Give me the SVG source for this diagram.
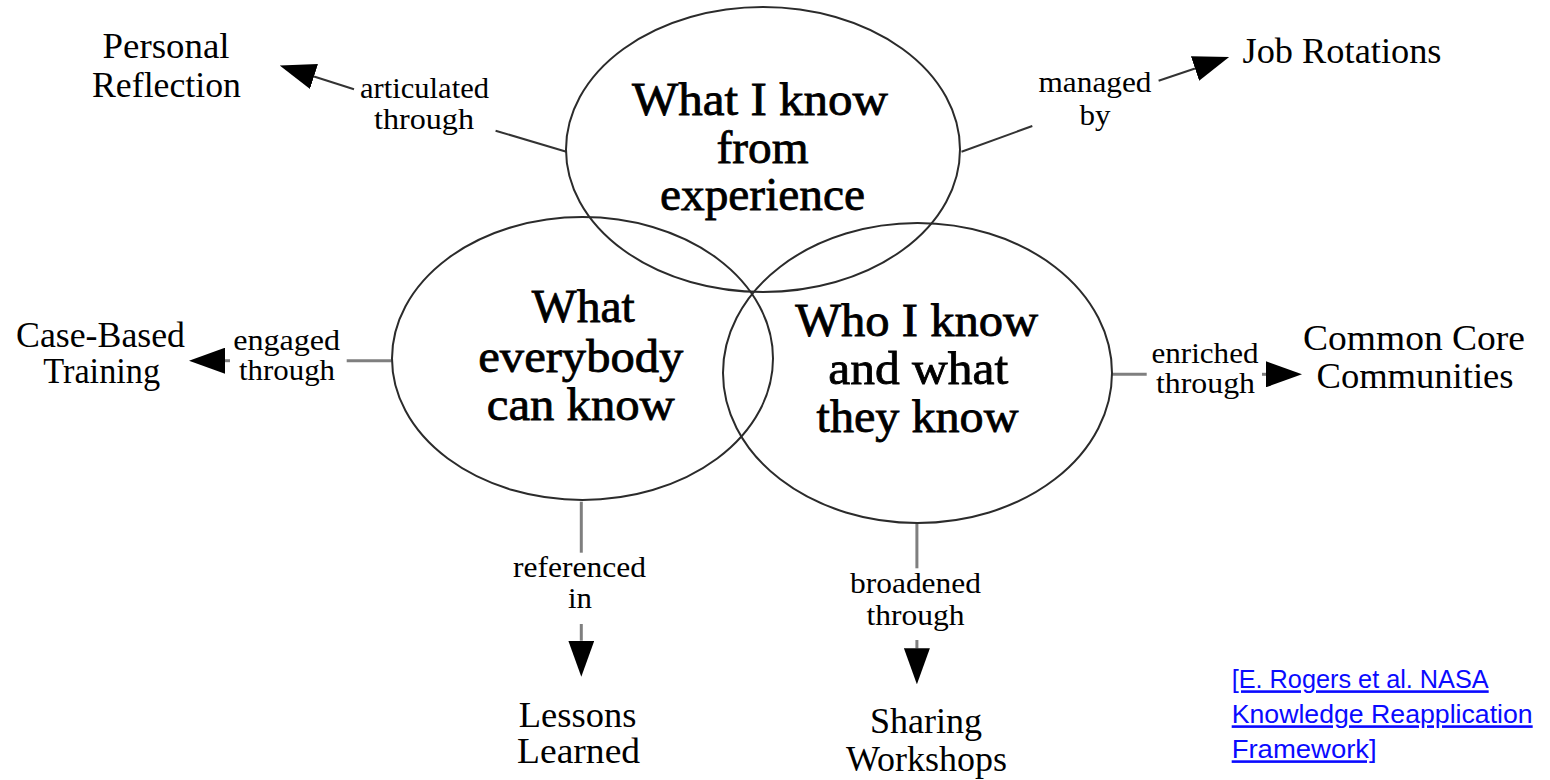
<svg xmlns="http://www.w3.org/2000/svg" width="1550" height="780" viewBox="0 0 1550 780">
<style>
.ell{fill:none;stroke:#2b2b2b;stroke-width:2}
.big{font-family:"Liberation Serif","Times New Roman",serif;font-size:47px;text-anchor:middle;fill:#000;stroke:#000;stroke-width:0.8}
.node{font-family:"Liberation Serif","Times New Roman",serif;font-size:36px;text-anchor:middle;fill:#000}
.lbl{font-family:"Liberation Serif","Times New Roman",serif;font-size:29px;text-anchor:middle;fill:#000}
.dk{stroke:#333;stroke-width:2;fill:none}
.gr{stroke:#7f7f7f;stroke-width:3;fill:none}
.arr{marker-end:url(#ah)}
.cite{font-family:"Liberation Sans",Arial,sans-serif;font-size:26px;fill:#0a0aff;text-decoration:underline}
</style>
<defs>
<marker id="ah" markerUnits="userSpaceOnUse" markerWidth="36" markerHeight="26" viewBox="0 0 36 26" refX="0" refY="13" orient="auto">
<path d="M0,0 L36,13 L0,26 z" fill="#000"/>
</marker>
</defs>
<rect width="1550" height="780" fill="#fff"/>

<g id="connectors">
<line class="dk" x1="566.4" y1="151.7" x2="495.6" y2="130.7"/>
<line class="dk arr" x1="354" y1="89.3" x2="314" y2="76.5"/>
<text class="lbl" x="424.5" y="98" textLength="129" lengthAdjust="spacingAndGlyphs">articulated</text>
<text class="lbl" x="424" y="129" textLength="100" lengthAdjust="spacingAndGlyphs">through</text>

<line class="dk" x1="961.5" y1="151.7" x2="1032.3" y2="126"/>
<line class="dk arr" x1="1158.6" y1="80.7" x2="1195" y2="68.5"/>
<text class="lbl" x="1095" y="92" textLength="113" lengthAdjust="spacingAndGlyphs">managed</text>
<text class="lbl" x="1095" y="125" textLength="31" lengthAdjust="spacingAndGlyphs">by</text>

<line class="gr" x1="391.7" y1="360.7" x2="346.7" y2="360.7"/>
<line class="gr arr" x1="230" y1="360.7" x2="225" y2="360.7"/>
<text class="lbl" x="286.7" y="350" textLength="107" lengthAdjust="spacingAndGlyphs">engaged</text>
<text class="lbl" x="287" y="380" textLength="96" lengthAdjust="spacingAndGlyphs">through</text>

<line class="gr" x1="1111.7" y1="374.3" x2="1146.7" y2="374.3"/>
<line class="gr arr" x1="1262" y1="374.3" x2="1266" y2="374.3"/>
<text class="lbl" x="1205" y="363" textLength="107" lengthAdjust="spacingAndGlyphs">enriched</text>
<text class="lbl" x="1205.5" y="393" textLength="99" lengthAdjust="spacingAndGlyphs">through</text>

<line class="gr" x1="581.3" y1="501.7" x2="581.3" y2="552.7"/>
<line class="gr arr" x1="581.3" y1="624" x2="581.3" y2="640.7"/>
<text class="lbl" x="579.6" y="576.7" textLength="133" lengthAdjust="spacingAndGlyphs">referenced</text>
<text class="lbl" x="580" y="608" textLength="24" lengthAdjust="spacingAndGlyphs">in</text>

<line class="gr" x1="916.9" y1="523.3" x2="916.9" y2="568.3"/>
<line class="gr arr" x1="916.9" y1="640" x2="916.9" y2="648.3"/>
<text class="lbl" x="915.5" y="593" textLength="131" lengthAdjust="spacingAndGlyphs">broadened</text>
<text class="lbl" x="915.5" y="625" textLength="98" lengthAdjust="spacingAndGlyphs">through</text>
</g>

<g id="node-experience">
<ellipse class="ell" cx="763" cy="149.5" rx="197" ry="142.5"/>
<text class="big" x="760" y="115" textLength="256" lengthAdjust="spacingAndGlyphs">What I know</text>
<text class="big" x="762.5" y="163" textLength="92" lengthAdjust="spacingAndGlyphs">from</text>
<text class="big" x="762.5" y="210" textLength="205" lengthAdjust="spacingAndGlyphs">experience</text>
</g>

<g id="node-everybody">
<ellipse class="ell" cx="582.5" cy="358.5" rx="190.5" ry="141.5"/>
<text class="big" x="583.3" y="321.7" textLength="103" lengthAdjust="spacingAndGlyphs">What</text>
<text class="big" x="580.8" y="371.7" textLength="205" lengthAdjust="spacingAndGlyphs">everybody</text>
<text class="big" x="580.8" y="420" textLength="188" lengthAdjust="spacingAndGlyphs">can know</text>
</g>

<g id="node-who">
<ellipse class="ell" cx="917.5" cy="373" rx="194.5" ry="150"/>
<text class="big" x="916.7" y="336" textLength="243" lengthAdjust="spacingAndGlyphs">Who I know</text>
<text class="big" x="918.3" y="384" textLength="180" lengthAdjust="spacingAndGlyphs">and what</text>
<text class="big" x="917.5" y="431.7" textLength="202" lengthAdjust="spacingAndGlyphs">they know</text>
</g>

<g id="node-personal-reflection">
<text class="node" x="166" y="58.3" textLength="127" lengthAdjust="spacingAndGlyphs">Personal</text>
<text class="node" x="166.5" y="96.7" textLength="149" lengthAdjust="spacingAndGlyphs">Reflection</text>
</g>

<g id="node-job-rotations">
<text class="node" x="1342" y="63.3" textLength="199" lengthAdjust="spacingAndGlyphs">Job Rotations</text>
</g>

<g id="node-case-based-training">
<text class="node" x="100.5" y="346.7" textLength="169" lengthAdjust="spacingAndGlyphs">Case-Based</text>
<text class="node" x="101.7" y="383.3" textLength="117" lengthAdjust="spacingAndGlyphs">Training</text>
</g>

<g id="node-common-core">
<text class="node" x="1414" y="350" textLength="222" lengthAdjust="spacingAndGlyphs">Common Core</text>
<text class="node" x="1415" y="388.3" textLength="197" lengthAdjust="spacingAndGlyphs">Communities</text>
</g>

<g id="node-lessons-learned">
<text class="node" x="577.6" y="726.7" textLength="117.5" lengthAdjust="spacingAndGlyphs">Lessons</text>
<text class="node" x="578.6" y="763.3" textLength="123" lengthAdjust="spacingAndGlyphs">Learned</text>
</g>

<g id="node-sharing-workshops">
<text class="node" x="926" y="733" textLength="112" lengthAdjust="spacingAndGlyphs">Sharing</text>
<text class="node" x="926.4" y="771" textLength="161" lengthAdjust="spacingAndGlyphs">Workshops</text>
</g>

<g id="citation">
<text class="cite" x="1231.7" y="688.3" textLength="257" lengthAdjust="spacingAndGlyphs">[E. Rogers et al. NASA</text>
<text class="cite" x="1231.7" y="723.3" textLength="301" lengthAdjust="spacingAndGlyphs">Knowledge Reapplication</text>
<text class="cite" x="1231.7" y="758.3" textLength="145" lengthAdjust="spacingAndGlyphs">Framework]</text>
</g>
</svg>
